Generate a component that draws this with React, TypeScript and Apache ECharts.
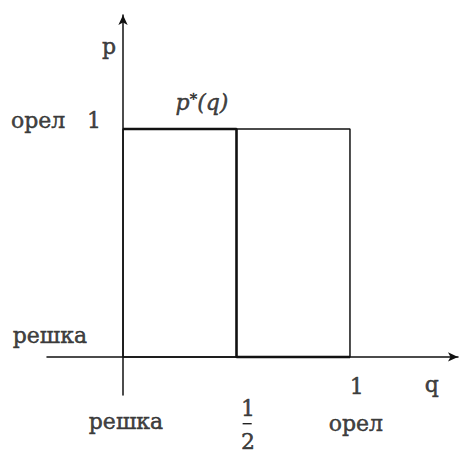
import React, { useEffect, useRef } from "react";
import * as echarts from "echarts";

// Strategy square (q on x, p on y)
const squareOutline: [number, number][] = [[0, 0], [0, 1], [1, 1], [1, 0], [0, 0]];
// Best response p*(q)
const bestResponse: [number, number][] = [[0, 1], [0.5, 1], [0.5, 0], [1, 0]];
// Fraction bar under "1" of 1/2
const fractionBar: [number, number][] = [[0.527, -0.293], [0.567, -0.293]];

// Annotations
const labelNames = ["p", "{i|p}{s|*}{i|(q)}", "орел", "1", "решка", "1", "q", "решка", "1", "2", "орел"];
const labelQ = [-0.062, 0.348, -0.374, -0.128, -0.322, 1.03, 1.36, 0.013, 0.551, 0.551, 1.026];
const labelP = [1.36, 1.114, 1.035, 1.035, 0.096, -0.13, -0.12, -0.285, -0.225, -0.37, -0.29];

const X_MIN = -0.335, X_MAX = 1.476, Y_MIN = -0.167, Y_MAX = 1.5;

export default function App() {
  const ref = useRef<HTMLDivElement>(null);
  useEffect(() => {
    if (!ref.current) return;
    const chart = echarts.init(ref.current, null, { renderer: "svg" });
    const ink = "#111";
    const font = "DejaVu Serif";
    const base = { color: ink, fontFamily: font, textBorderColor: ink, textBorderWidth: 0.5 };
    chart.setOption({
      animation: false,
      backgroundColor: "#fff",
      grid: { left: 47, top: 15, width: 411, height: 380, containLabel: false },
      xAxis: {
        type: "value", min: X_MIN, max: X_MAX,
        axisLine: { show: true, onZero: true, symbol: ["none", "arrow"], symbolSize: [7, 10], lineStyle: { color: ink, width: 1.5 } },
        axisTick: { show: false }, axisLabel: { show: false }, splitLine: { show: false },
      },
      yAxis: {
        type: "value", min: Y_MIN, max: Y_MAX,
        axisLine: { show: true, onZero: true, symbol: ["none", "arrow"], symbolSize: [7, 10], lineStyle: { color: ink, width: 1.5 } },
        axisTick: { show: false }, axisLabel: { show: false }, splitLine: { show: false },
      },
      series: [
        {
          type: "line", data: squareOutline, symbol: "none", silent: true,
          lineStyle: { color: ink, width: 1.5 },
        },
        {
          type: "line", data: bestResponse, symbol: "none", silent: true,
          lineStyle: { color: ink, width: 2.6 },
        },
        {
          type: "line", data: fractionBar, symbol: "none", silent: true, clip: false,
          lineStyle: { color: ink, width: 1.3 },
        },
        {
          type: "scatter", clip: false, symbolSize: 0, silent: true,
          data: labelNames.map((t, i) => ({
            value: [labelQ[i], labelP[i]],
            label: {
              show: true, position: "inside", formatter: t,
              ...base, fontSize: 22,
              align: "center", verticalAlign: "middle",
              rich: {
                i: { ...base, fontSize: 22, fontStyle: "italic", verticalAlign: "bottom" },
                s: { ...base, fontSize: 15, verticalAlign: "top" },
              },
            },
          })),
        },
      ],
    });
    return () => chart.dispose();
  }, []);
  return <div ref={ref} style={{ position: "absolute", left: 0, top: 0, width: 461, height: 453 }} />;
}
